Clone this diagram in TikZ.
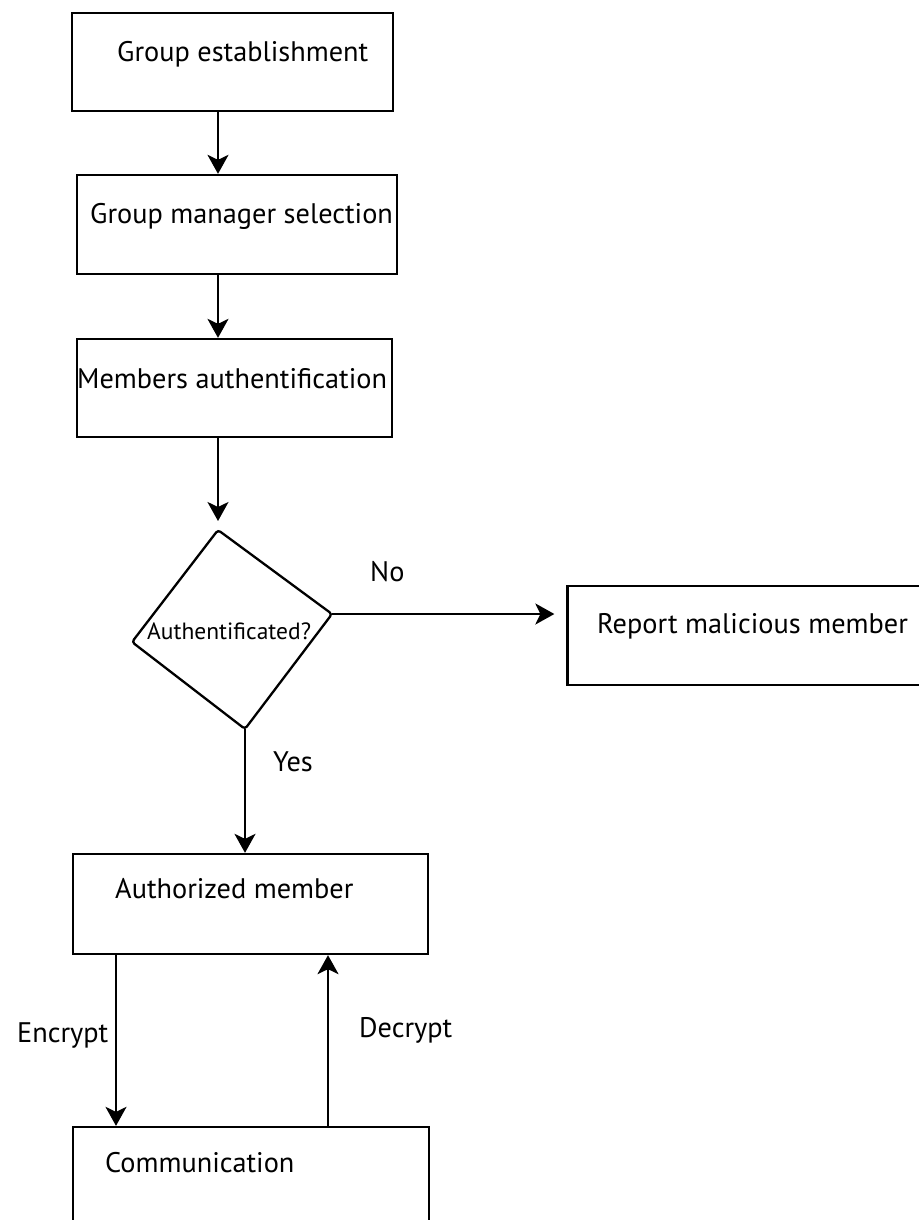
\documentclass[tikz,border=0pt]{standalone}
\usepackage{fontspec}
\setmainfont{PT Sans}
\usetikzlibrary{arrows.meta,calc}
\begin{document}
\begin{tikzpicture}[x=1pt,y=-1pt,
  box/.style={draw,line width=2.3pt,rectangle,minimum width=#1,inner sep=0pt},
  txt/.style={anchor=base west,inner sep=0pt,font=\fontsize{28.3}{34}\selectfont},
  smalltxt/.style={anchor=base west,inner sep=0pt,font=\fontsize{23.5}{28}\selectfont},
  arr/.style={line width=2.3pt,-{Stealth[length=19pt,width=21pt,inset=5pt]}},
  dia/.style={draw,line width=2.3pt,rounded corners=3pt}]
\useasboundingbox (0,0) rectangle (918,1220);
% boxes
\node[box=321pt,minimum height=98pt] (b1) at (232.5,62) {};
\node[txt] (t1) at (117,62) {Group establishment};
\node[box=320pt,minimum height=99pt] (b2) at (237,224.5) {};
\node[txt] (t2) at (90,223) {Group manager selection};
\node[box=315pt,minimum height=98pt] (b3) at (234.5,388) {};
\node[txt] (t3) at (77,388) {Members authentification};
% diamond
\coordinate (dtop) at (218,530);
\coordinate (dright) at (332,614);
\coordinate (dbot) at (245,729);
\coordinate (dleft) at (132,642);
\draw[dia] (dtop) -- (dright) -- (dbot) -- (dleft) -- cycle;
\node[smalltxt] (td) at (147,639) {Authentificated?};
\node[box=355pt,minimum height=99pt] (b4) at (745,635.5) {};
\node[txt] (t4) at (597,633) {Report malicious member};
\node[box=355pt,minimum height=100pt] (b5) at (250.5,904) {};
\node[txt] (t5) at (115,898) {Authorized member};
\node[box=356pt,minimum height=120pt] (b6) at (251,1187) {};
\node[txt] (t6) at (105,1172) {Communication};
% arrows
\draw[arr] (b1.south -| dtop) -- (b2.north -| dtop);
\draw[arr] (b2.south -| dtop) -- (b3.north -| dtop);
\draw[arr] (b3.south -| dtop) -- ($(dtop)+(0,-9)$);
\draw[arr] (dright) -- ($(dright -| b4.west)+(-12,0)$);
\draw[arr] (dbot) -- (dbot |- b5.north);
\coordinate (enc) at (116,0);
\coordinate (dec) at (328,0);
\draw[arr] (b5.south -| enc) -- (b6.north -| enc);
\draw[arr] (b6.north -| dec) -- (b5.south -| dec);
% labels
\node[txt] (lno) at (370,581) {No};
\node[txt] (lyes) at (273,771) {Yes};
\node[txt] (lenc) at (17,1042) {Encrypt};
\node[txt] (ldec) at (359,1037) {Decrypt};
\end{tikzpicture}
\end{document}
